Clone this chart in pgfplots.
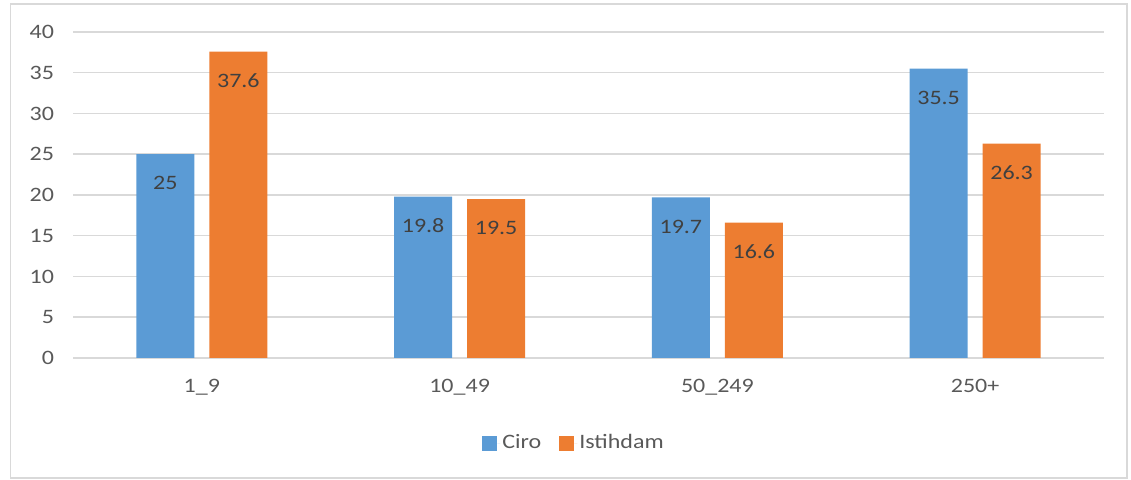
\documentclass[border=0pt]{standalone}
\usepackage{pgfplots}
\pgfplotsset{compat=1.18}
\usepackage{fontspec}
\setmainfont{Carlito}[FakeStretch=1.17]
\definecolor{cblue}{HTML}{5B9BD5}
\definecolor{corange}{HTML}{ED7D31}
\definecolor{gridc}{HTML}{D9D9D9}
\definecolor{tickc}{HTML}{595959}
\definecolor{labc}{HTML}{404040}
\begin{document}
\fontsize{20.5bp}{24bp}\selectfont
\begin{tikzpicture}
\useasboundingbox (0,0) rectangle (1131bp,480bp);
\draw[gridc, line width=1.5bp] (10.5bp,2bp) rectangle (1127bp,476bp);
\begin{axis}[
  at={(73bp,122bp)}, anchor=south west,
  scale only axis, width=1031bp, height=326bp,
  ybar=15bp, bar width=58bp,
  xmin=-0.5, xmax=3.5, ymin=0, ymax=40,
  xtick=data, xticklabels={1\_9,10\_49,50\_249,250+},
  ytick distance=5,
  axis line style={draw=none},
  major tick length=0pt,
  ymajorgrids, grid style={gridc, line width=1.5bp},
  /pgf/number format/assume math mode=true,
  tick label style={font=\fontsize{20.5bp}{24bp}\selectfont, text=tickc},
  yticklabel style={xshift=-12bp},
  xticklabel style={yshift=-14bp},
  nodes near coords,
  every node near coord/.append style={font=\fontsize{20.5bp}{24bp}\selectfont, text=labc, anchor=center, yshift=-29bp},
  legend columns=2,
  legend style={at={(0.486,-0.261)}, anchor=center, draw=none, fill=none,
    font=\fontsize{20.5bp}{24bp}\selectfont, text=tickc,
    /tikz/every even column/.append style={column sep=16bp}},
  legend image code/.code={\fill[#1] (0bp,-7.5bp) rectangle (15bp,7.5bp); \path (15bp,0bp) -- (18bp,0bp);},
]
\addplot[fill=cblue, draw=none] coordinates {(0,25) (1,19.8) (2,19.7) (3,35.5)};
\addplot[fill=corange, draw=none] coordinates {(0,37.6) (1,19.5) (2,16.6) (3,26.3)};
\legend{Ciro,Istihdam}
\end{axis}
\end{tikzpicture}
\end{document}
